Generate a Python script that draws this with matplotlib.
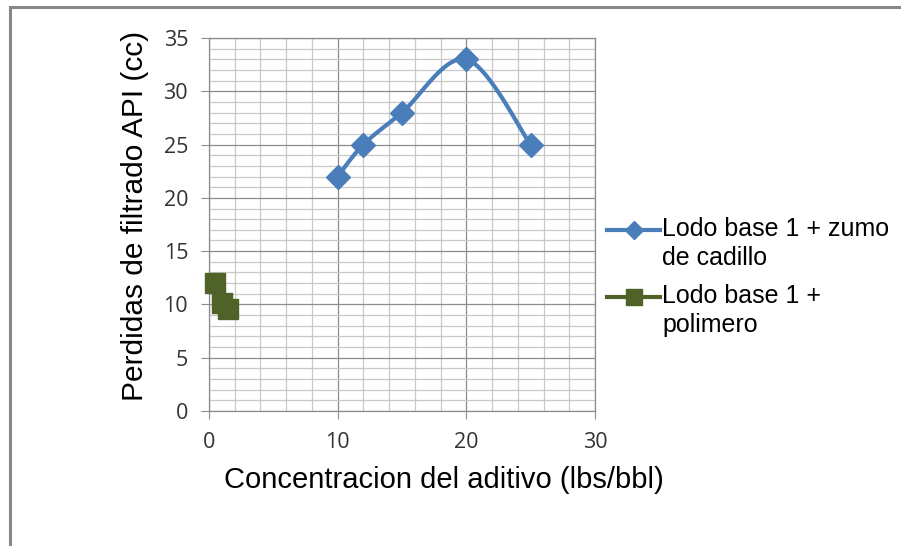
import numpy as np
import matplotlib
matplotlib.use("Agg")
import matplotlib.pyplot as plt
from matplotlib.patches import Rectangle
from matplotlib.lines import Line2D
from matplotlib.ticker import MultipleLocator

# ---------- datos ----------
x_cadillo = [10, 12, 15, 20, 25]
y_cadillo = [22, 25, 28, 33, 25]
x_polimero = [0.5, 1.0, 1.5]
y_polimero = [12, 10.1, 9.6]
label_cadillo = "Lodo base 1 + zumo\nde cadillo"
label_polimero = "Lodo base 1 +\npolimero"

azul = "#4a7ebb"
verde = "#4f6228"


def suavizar(x, y, n=30):
    # curva suavizada tipo Excel (Catmull-Rom) solo para dibujar la linea
    p = np.column_stack([x, y]).astype(float)
    p = np.vstack([p[0], p, p[-1]])
    out = []
    for i in range(1, len(p) - 2):
        p0, p1, p2, p3 = p[i - 1], p[i], p[i + 1], p[i + 2]
        t = np.linspace(0, 1, n)[:, None]
        seg = 0.5 * ((2 * p1) + (-p0 + p2) * t + (2 * p0 - 5 * p1 + 4 * p2 - p3) * t ** 2
                     + (-p0 + 3 * p1 - 3 * p2 + p3) * t ** 3)
        out.append(seg)
    c = np.vstack(out)
    return c[:, 0], c[:, 1]


plt.rcParams['font.family'] = ['Liberation Sans', 'DejaVu Sans']

W, H = 901, 546
fig = plt.figure(figsize=(W / 100, H / 100), dpi=100)
ax = fig.add_axes([209 / W, 1 - 411 / H, (595 - 209) / W, (411 - 38) / H])

# borde del grafico (cortado a la derecha y abajo)
fig.patches.append(Rectangle((9.5 / W, -0.1), 1.2, 1.1 - 6.5 / H,
                             transform=fig.transFigure, fill=False,
                             edgecolor="#888888", linewidth=2.2))

# linea suavizada
xs, ys = suavizar(x_cadillo, y_cadillo)
ax.plot(xs, ys, color=azul, linewidth=3, solid_capstyle="round", zorder=3)
ax.plot(x_cadillo, y_cadillo, linestyle="none", marker="D", markersize=12,
        color=azul, zorder=4)
ax.plot(x_polimero, y_polimero, color=verde, linewidth=3, marker="s",
        markersize=14, zorder=4, clip_on=False)

ax.set_xlim(0, 30)
ax.set_ylim(0, 35)
ax.xaxis.set_major_locator(MultipleLocator(10))
ax.xaxis.set_minor_locator(MultipleLocator(2))
ax.yaxis.set_major_locator(MultipleLocator(5))
ax.yaxis.set_minor_locator(MultipleLocator(1))
ax.grid(which="major", color="#8c8c8c", linewidth=0.9)
ax.grid(which="minor", color="#c8c8c8", linewidth=0.9)
ax.set_axisbelow(True)
for s in ax.spines.values():
    s.set_color("#8c8c8c")
    s.set_linewidth(0.9)
ax.tick_params(which="major", direction="out", length=6, color="#8c8c8c",
               labelsize=15.5, pad=9)
ax.tick_params(which="minor", length=0)
for lab in ax.get_xticklabels() + ax.get_yticklabels():
    lab.set_fontfamily(["Open Sans", "DejaVu Sans"])
    lab.set_color("#333333")

ax.set_xlabel("Concentracion del aditivo (lbs/bbl)", fontsize=21, va="center")
ax.set_ylabel("Perdidas de filtrado API (cc)", fontsize=21.5, va="center")
ax.xaxis.set_label_coords(0.609, -0.185)
ax.yaxis.set_label_coords(-0.192, 0.523)

# leyenda a mano: marcador alineado con la primera linea del texto
entradas = [(label_cadillo, azul, "D", 9), (label_polimero, verde, "s", 11)]
for i, (lab, col, mk, ms) in enumerate(entradas):
    y0 = 1 - (230 + i * 67) / H
    fig.add_artist(Line2D([607 / W, 660 / W], [y0, y0], color=col, linewidth=3,
                          transform=fig.transFigure))
    fig.add_artist(Line2D([633.5 / W], [y0], color=col, marker=mk, markersize=ms,
                          linestyle="none", transform=fig.transFigure))
    fig.text(662 / W, y0 + 13 / H, lab, fontsize=18, va="top", ha="left",
             linespacing=1.26)

fig.savefig("out.png", dpi=100)
